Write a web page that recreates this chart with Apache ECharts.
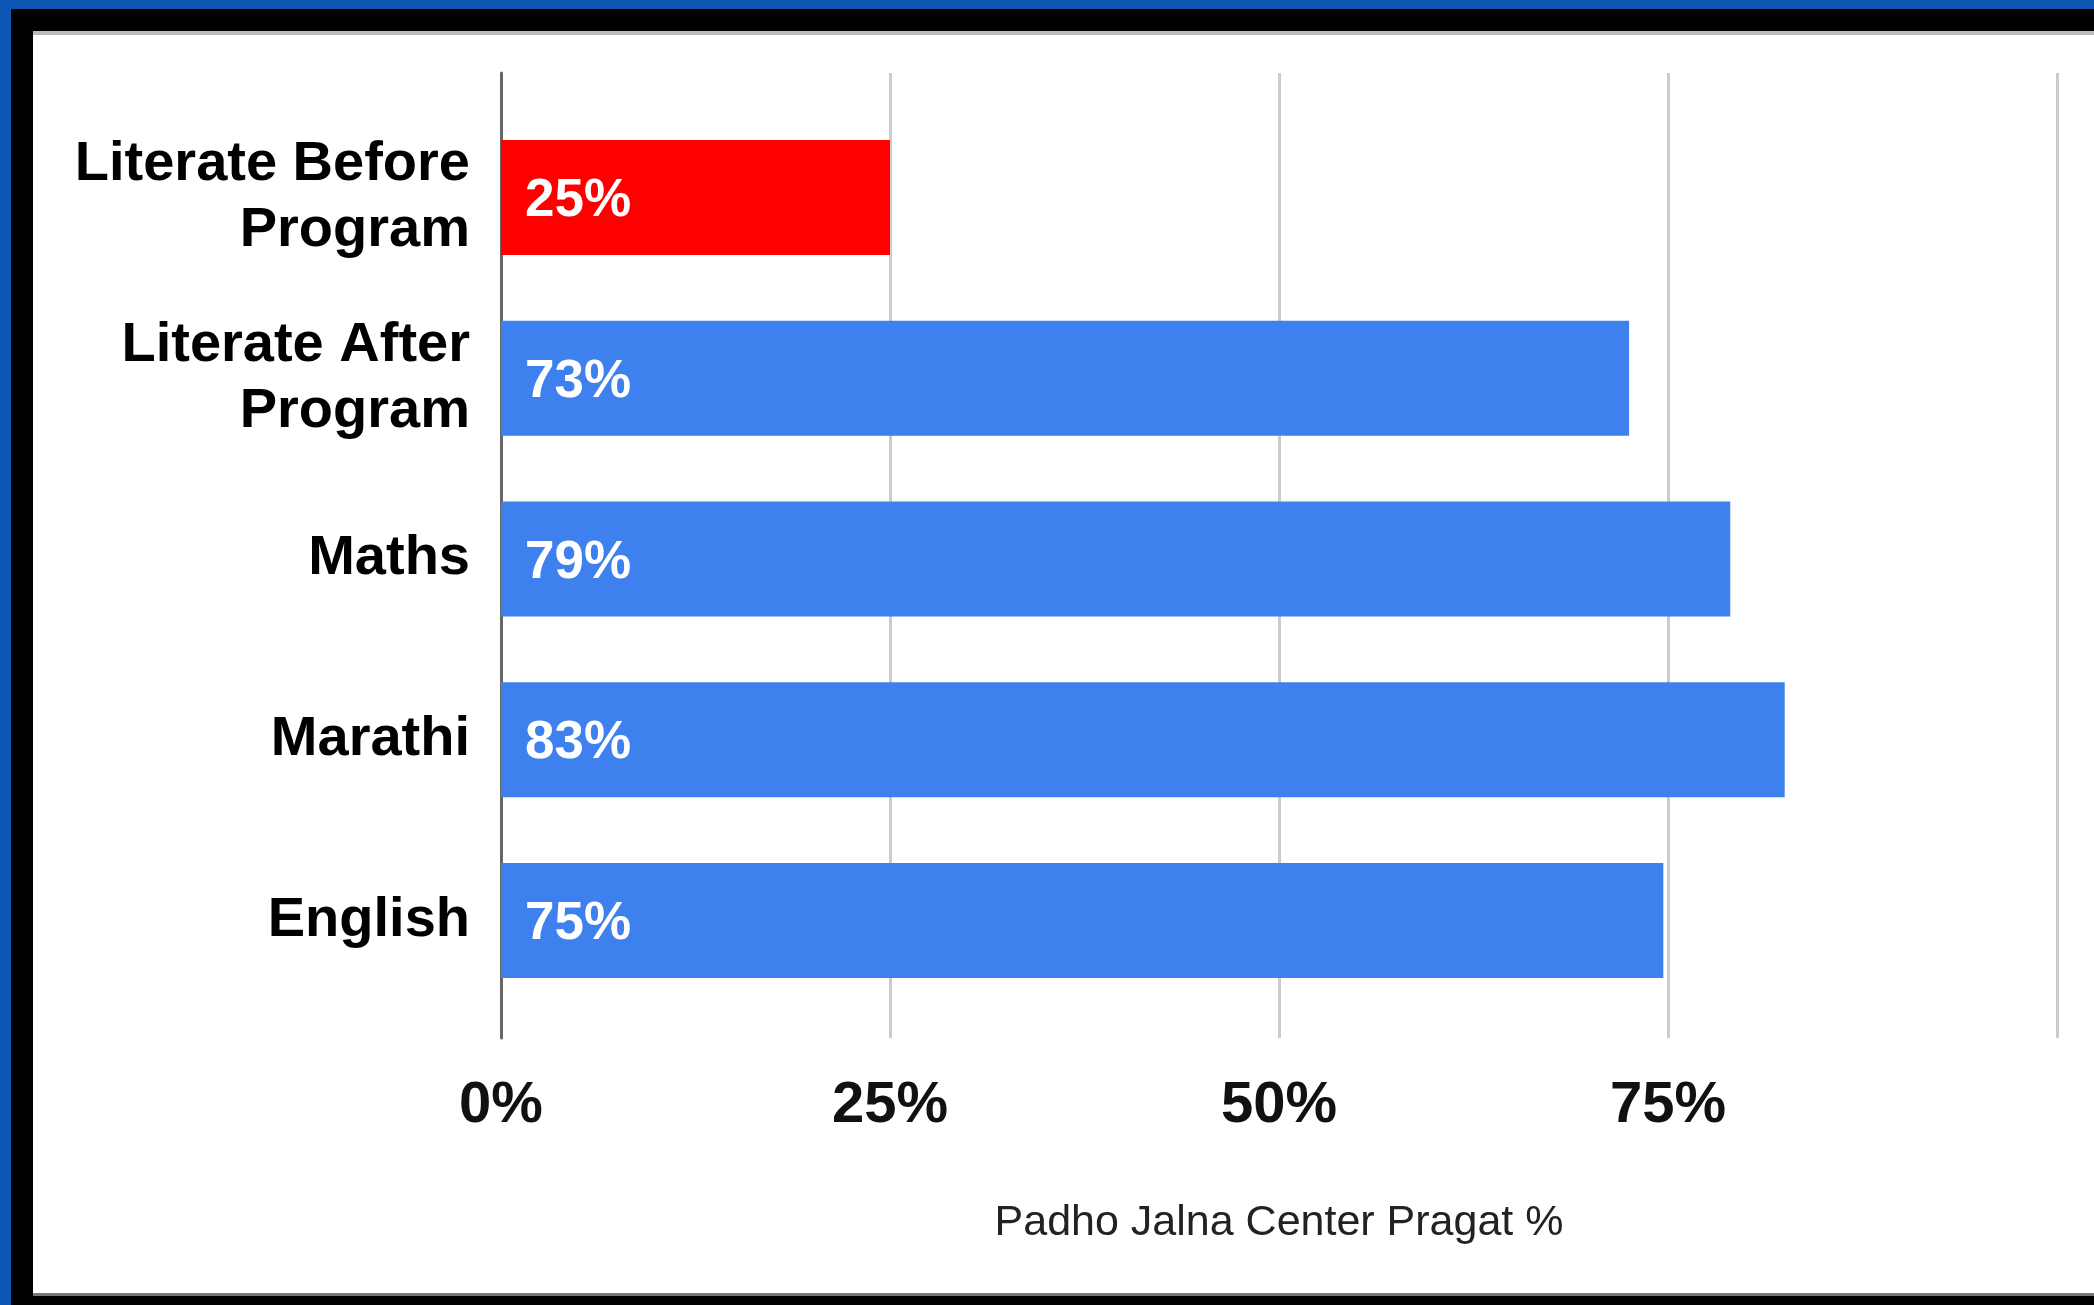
<!DOCTYPE html>
<html>
<head>
<meta charset="utf-8">
<script src="https://cdn.jsdelivr.net/npm/echarts@6/dist/echarts.min.js"></script>
<style>
  html, body { margin: 0; padding: 0; width: 2094px; height: 1305px; overflow: hidden; background: #000; }
  #topband { position: absolute; left: 0; top: 0; width: 2094px; height: 9px; background: #0c55b2; }
  #leftband { position: absolute; left: 0; top: 0; width: 11px; height: 1305px; background: #0c55b2; }
  #panel { position: absolute; left: 33px; top: 31px; width: 2061px; height: 1265px; box-sizing: border-box;
           background: #fff; border-top: 4px solid #bbbbbb; border-bottom: 3px solid #777777; }
  #chart { position: absolute; left: 0; top: 0; width: 2094px; height: 1305px; }
</style>
</head>
<body>
<div id="topband"></div>
<div id="leftband"></div>
<div id="panel"></div>
<div id="chart"></div>
<script>
const categories = ['Literate Before\nProgram', 'Literate After\nProgram', 'Maths', 'Marathi', 'English'];
const values = [25, 72.5, 79, 82.5, 74.7];
const xTicks = [0, 25, 50, 75, 100];
const axisTitle = 'Padho Jalna Center Pragat %';

const FONT = '"Liberation Sans", Arial, sans-serif';
const RED = '#ff0000';
const BLUE = '#3d80ee';

const chart = echarts.init(document.getElementById('chart'), null, { renderer: 'canvas' });

chart.setOption({
  backgroundColor: 'transparent',
  animation: false,
  grid: [
    { left: 501, right: 37, top: 107, height: 904, containLabel: false },
    { left: 501, right: 37, top: 73, height: 965, containLabel: false }
  ],
  xAxis: [
    {
      gridIndex: 0, type: 'value', min: xTicks[0], max: xTicks[xTicks.length - 1], interval: 25,
      axisLine: { show: false }, axisTick: { show: false }, axisLabel: { show: false }, splitLine: { show: false }
    },
    {
      gridIndex: 1, type: 'value', min: xTicks[0], max: xTicks[xTicks.length - 1], interval: 25,
      axisLine: { show: false }, axisTick: { show: false },
      splitLine: { show: true, lineStyle: { color: '#cccccc', width: 3 } },
      axisLabel: {
        show: true, margin: 39, fontFamily: FONT, fontSize: 58, lineHeight: 58, fontWeight: 'bold', color: '#111',
        formatter: function (v) { return (v === 100 ? '' : v + '%'); }
      },
      name: axisTitle, nameLocation: 'middle', nameGap: 164,
      nameTextStyle: { fontFamily: FONT, fontSize: 43, lineHeight: 43, color: '#222' }
    }
  ],
  yAxis: [
    {
      gridIndex: 0, type: 'category', data: categories, inverse: true,
      axisLine: { show: false }, axisTick: { show: false }, splitLine: { show: false },
      axisLabel: {
        margin: 31, fontFamily: FONT, fontSize: 56, lineHeight: 66, fontWeight: 'bold', color: '#000', align: 'right'
      }
    },
    {
      gridIndex: 1, type: 'value', min: 0, max: 1,
      axisLine: { show: true, onZero: false, lineStyle: { color: '#666666', width: 3 } },
      axisTick: { show: false }, axisLabel: { show: false }, splitLine: { show: false }
    }
  ],
  series: [
    {
      type: 'bar', xAxisIndex: 0, yAxisIndex: 0, data: values, barWidth: 115, z: 3,
      itemStyle: { color: function (p) { return p.dataIndex === 0 ? RED : BLUE; } },
      label: {
        show: true, position: 'insideLeft', distance: 24, offset: [0, 4], color: '#fff', fontFamily: FONT,
        fontSize: 53, fontWeight: 'bold',
        formatter: function (p) { return Math.round(p.value) + '%'; }
      }
    }
  ]
});
</script>
</body>
</html>
